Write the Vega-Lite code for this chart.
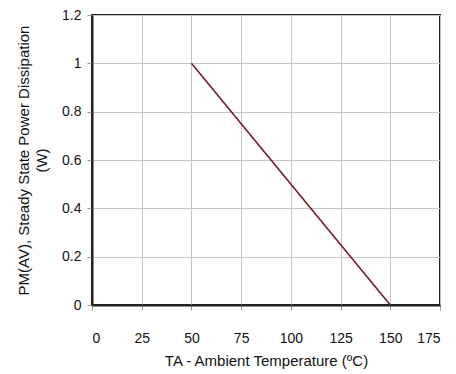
{
  "$schema": "https://vega.github.io/schema/vega-lite/v6.json",
  "width": 348,
  "height": 290,
  "autosize": "none",
  "padding": {"left": 92, "top": 15, "right": 16, "bottom": 69},
  "config": {
    "view": {"stroke": "#222222", "strokeWidth": 2},
    "font": "Liberation Sans",
    "axis": {
      "gridColor": "#c4c4c4",
      "gridWidth": 1,
      "domainColor": "#222222",
      "domainWidth": 2,
      "tickColor": "#999999",
      "tickSize": 5,
      "labelFont": "Liberation Sans",
      "labelFontSize": 14,
      "labelColor": "#111111",
      "titleFont": "Liberation Sans",
      "titleFontSize": 15,
      "titleFontWeight": "normal",
      "titleColor": "#111111"
    }
  },
  "data": {"values": [
    {"t": 50, "p": 1.0},
    {"t": 150, "p": 0.0}
  ]},
  "mark": {"type": "line", "color": "#6b1f24", "strokeWidth": 1.6},
  "encoding": {
    "x": {
      "field": "t", "type": "quantitative",
      "scale": {"domain": [0, 175], "nice": false},
      "axis": {"values": [0, 25, 50, 75, 100, 125, 150, 175], "labelPadding": 21, "title": "TA - Ambient Temperature (ºC)", "titlePadding": 8}
    },
    "y": {
      "field": "p", "type": "quantitative",
      "scale": {"domain": [0, 1.2], "nice": false},
      "axis": {"values": [0, 0.2, 0.4, 0.6, 0.8, 1, 1.2], "format": "~g", "labelPadding": 6, "title": ["PM(AV), Steady State Power Dissipation", "(W)"], "titlePadding": 12, "titleLineHeight": 18}
    }
  }
}
